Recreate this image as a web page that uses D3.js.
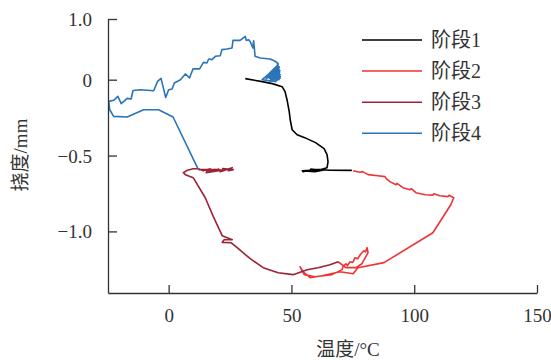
<!DOCTYPE html>
<html>
<head>
<meta charset="utf-8">
<script src="https://cdn.jsdelivr.net/npm/d3@7"></script>
<style>
  body { margin: 0; background: #fff; }
  text { font-family: "Liberation Serif", "Noto Sans CJK SC", serif; fill: #333; }
</style>
</head>
<body>
<div id="chart"></div>
<script>
// series values: [temperature, deflection]
const stage1 = [
  [31.2, 0.007], [38.1, -0.013], [42.2, -0.026], [46.2, -0.046], [47.4, -0.079],
  [48.2, -0.132], [49.1, -0.211], [49.5, -0.264], [50.3, -0.330], [52.3, -0.363],
  [55.4, -0.382], [59.8, -0.415], [63.3, -0.455], [64.5, -0.494], [64.9, -0.541],
  [64.5, -0.580], [61.7, -0.593], [55.5, -0.603], [58.5, -0.593], [54.7, -0.606],
  [57.0, -0.598], [60.9, -0.600], [56.2, -0.604], [63.0, -0.590], [54.4, -0.600],
  [59.5, -0.606], [62.8, -0.596], [57.8, -0.590], [65.8, -0.597], [74.6, -0.598]
];
const stage2 = [
  [75.1, -0.600], [77.9, -0.610], [79.0, -0.606], [81.2, -0.626], [85.2, -0.633],
  [88.1, -0.639], [88.6, -0.652], [90.1, -0.672], [92.6, -0.692], [93.0, -0.684],
  [95.4, -0.712], [98.3, -0.725], [98.8, -0.718], [100.7, -0.745], [104.4, -0.758],
  [107.6, -0.761], [108.0, -0.752], [110.4, -0.765], [113.7, -0.771], [114.2, -0.762],
  [116.1, -0.778], [114.9, -0.824], [107.6, -1.009], [87.7, -1.206], [77.1, -1.239],
  [75.1, -1.279], [69.8, -1.266], [62.4, -1.292], [57.6, -1.305], [54.8, -1.266],
  [53.5, -1.233], [55.2, -1.285], [59.6, -1.299], [66.5, -1.285], [70.6, -1.252],
  [71.0, -1.232], [72.2, -1.213], [72.8, -1.225], [73.9, -1.200], [75.0, -1.205],
  [75.9, -1.173], [77.0, -1.180], [78.0, -1.154], [79.5, -1.127], [80.2, -1.135],
  [80.8, -1.107], [81.2, -1.140], [78.7, -1.213], [76.3, -1.239], [72.2, -1.239],
  [69.0, -1.200]
];
const stage3 = [
  [69.0, -1.200], [65.7, -1.220], [60.8, -1.239], [56.4, -1.253], [50.7, -1.285],
  [44.6, -1.272], [38.5, -1.239], [33.2, -1.180], [27.9, -1.107], [25.5, -1.075],
  [21.8, -1.072], [22.6, -1.055], [25.9, -1.055], [21.8, -1.028], [18.2, -0.903],
  [14.9, -0.778], [10.0, -0.646], [6.8, -0.626], [6.0, -0.613], [7.6, -0.597],
  [10.0, -0.587], [12.1, -0.587], [14.1, -0.600], [16.9, -0.587], [15.3, -0.613],
  [20.2, -0.600], [17.8, -0.606], [23.0, -0.593], [21.0, -0.606], [25.9, -0.580],
  [24.3, -0.600], [26.3, -0.593], [22.0, -0.585], [24.8, -0.590], [19.5, -0.598],
  [22.5, -0.600], [17.0, -0.596], [20.5, -0.590], [15.5, -0.602], [19.0, -0.593],
  [14.6, -0.593], [12.1, -0.593]
];
const stage4 = [
  [12.0, -0.589], [1.8, -0.246], [-4.1, -0.198], [-10.2, -0.198], [-16.9, -0.246],
  [-22.4, -0.242], [-24.0, -0.198], [-24.4, -0.143], [-22.4, -0.136], [-20.7, -0.110],
  [-19.3, -0.158], [-16.9, -0.123], [-15.3, -0.127], [-14.5, -0.071], [-11.5, -0.066],
  [-6.1, -0.073], [-4.5, -0.011], [-3.1, 0.009], [-1.2, -0.117], [0.0, -0.066],
  [1.4, -0.061], [2.3, -0.022], [4.8, 0.000], [6.8, 0.038], [8.5, 0.011],
  [9.9, 0.071], [12.6, 0.071], [14.2, 0.114], [15.6, 0.110], [16.3, 0.136],
  [17.6, 0.132], [19.0, 0.154], [21.0, 0.158], [21.7, 0.198], [23.7, 0.202],
  [25.8, 0.209], [26.2, 0.259], [29.1, 0.259], [31.2, 0.285], [31.6, 0.259],
  [32.5, 0.264], [33.2, 0.252], [34.3, 0.209], [34.6, 0.257], [35.2, 0.154],
  [37.3, 0.143], [41.3, 0.136], [43.4, 0.121], [44.3, 0.110], [44.7, 0.066],
  [45.4, 0.011], [43.4, -0.011], [38.1, 0.000], [40.5, 0.033], [44.1, 0.092],
  [42.2, 0.026], [45.0, 0.066], [39.7, 0.007], [42.9, 0.053], [45.4, 0.033],
  [41.3, -0.013], [44.6, 0.105], [43.7, -0.013], [40.0, 0.020], [44.8, 0.080],
  [41.8, 0.045], [45.2, 0.050], [42.5, 0.000], [44.0, 0.075], [43.0, 0.030],
  [45.5, 0.020], [41.0, 0.010], [44.5, 0.095], [42.8, 0.060], [43.8, -0.005],
  [45.0, 0.085], [42.0, 0.015], [44.2, 0.040], [43.5, 0.070], [44.9, 0.000],
  [43.2, 0.045], [45.3, 0.060], [42.6, -0.008], [44.4, 0.100]
];

const seriesNames = ['阶段1', '阶段2', '阶段3', '阶段4'];
const seriesColors = ['#000000', '#ee3333', '#9b2335', '#2a74b8'];
const xTicks = [0, 50, 100, 150];
const yTicks = [0.4, 0, -0.5, -1.0];
const yTickLabels = ['1.0', '0', '\u22120.5', '\u22121.0'];

const width = 551, height = 360;
const margin = {left: 108, right: 14, top: 19, bottom: 67};

const svg = d3.select('#chart').append('svg')
  .attr('width', width)
  .attr('height', height);

const x = d3.scaleLinear().domain([-24.7, 150]).range([margin.left, width - margin.right]);
const y = d3.scaleLinear().domain([-1.406, 0.4]).range([height - margin.bottom, margin.top]);

const line = d3.line().x(d => x(d[0])).y(d => y(d[1]));

const series = [stage1, stage2, stage3, stage4];
// draw order: red under, then maroon, black, blue
[1, 2, 0, 3].forEach(i => {
  svg.append('path')
    .datum(series[i])
    .attr('fill', 'none')
    .attr('stroke', seriesColors[i])
    .attr('stroke-width', 1.6)
    .attr('stroke-linejoin', 'round')
    .attr('d', line);
});

const xAxis = svg.append('g')
  .attr('transform', `translate(0,${height - margin.bottom})`)
  .call(d3.axisBottom(x).tickValues(xTicks).tickSizeInner(-8).tickSizeOuter(0).tickPadding(16));
const yAxis = svg.append('g')
  .attr('transform', `translate(${margin.left},0)`)
  .call(d3.axisLeft(y).tickValues(yTicks).tickFormat((d, i) => yTickLabels[i])
    .tickSizeInner(-9).tickSizeOuter(0).tickPadding(16));

[xAxis, yAxis].forEach(g => {
  g.select('.domain').attr('stroke', '#333').attr('stroke-width', 1.3);
  g.selectAll('.tick line').attr('stroke', '#333').attr('stroke-width', 1.3);
  g.selectAll('.tick text').attr('font-size', 19).attr('fill', '#333')
    .style('font-family', '"Liberation Serif", serif');
});
yAxis.selectAll('.tick text').attr('dy', '0.34em');

// axis titles
const xTitle = svg.append('text')
  .attr('x', 348).attr('y', 356)
  .attr('text-anchor', 'middle')
  .attr('font-size', 19);
xTitle.append('tspan').text('温度');
xTitle.append('tspan').style('font-family', '"Liberation Serif", serif').text('/°C');

const yTitle = svg.append('text')
  .attr('transform', 'translate(27,155) rotate(-90)')
  .attr('text-anchor', 'middle')
  .attr('font-size', 19);
yTitle.append('tspan').text('挠度');
yTitle.append('tspan').style('font-family', '"Liberation Serif", serif').text('/mm');

// legend
const legend = svg.append('g');
seriesNames.forEach((name, i) => {
  const ly = 40 + i * 31.1;
  legend.append('line')
    .attr('x1', 362).attr('x2', 422)
    .attr('y1', ly).attr('y2', ly)
    .attr('stroke', seriesColors[i])
    .attr('stroke-width', 1.5);
  legend.append('text')
    .attr('x', 431).attr('y', ly)
    .attr('dy', '0.35em')
    .attr('font-size', 20)
    .text(name);
});
</script>
</body>
</html>
